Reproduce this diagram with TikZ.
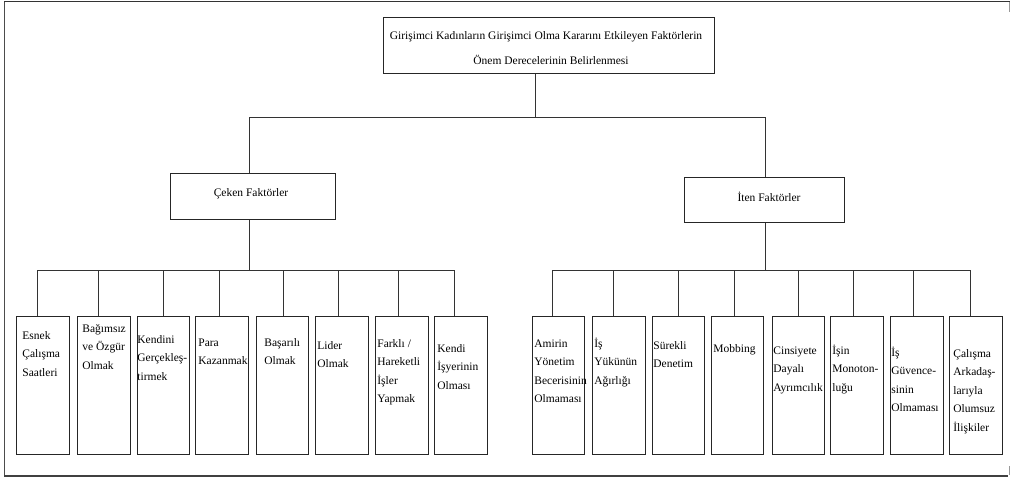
\documentclass[tikz,border=0pt]{standalone}
\usepackage{fontspec}
\setmainfont{Liberation Serif}
\begin{document}
\begin{tikzpicture}[x=1pt,y=-1pt,
  line width=0.8pt,
  box/.style={draw=black!85, line width=0.9pt, anchor=north west, inner sep=0pt},
  lbl/.style={anchor=north west, inner sep=0pt, align=left, font=\fontsize{11.5}{18.5}\selectfont},
  conn/.style={draw=black!80, line width=0.8pt},
  frame/.style={draw=black!70}]
\useasboundingbox (0,0) rectangle (1010,479);
% frame
\draw[frame, line width=0.8pt] (4.5,2) -- (4.5,476);
\draw[frame, line width=1.8pt, draw=black!80] (4,1.5) -- (1010,1.5);
\draw[frame, line width=1.6pt, draw=black!75] (4,476) -- (1008,476);
\draw[frame, line width=0.6pt, draw=black!40] (1009,2) -- (1009,12);
\draw[frame, line width=0.6pt, draw=black!40] (1009,466) -- (1009,475);

% title
\node[box, minimum width=331pt, minimum height=56pt] (T) at (383,17) {};
\node[anchor=north, inner sep=0pt, align=center, font=\fontsize{11.5}{25}\selectfont] (Tt) at (546,29)
  {\rule{0pt}{10pt}Girişimci Kadınların Girişimci Olma Kararını Etkileyen Faktörlerin\\ \hspace*{10pt}Önem Derecelerinin Belirlenmesi};

% level 2
\node[box, minimum width=165pt, minimum height=46pt] (C) at (170,173) {};
\node[font=\fontsize{11.5}{14}\selectfont, inner sep=0pt] at (251,194) {Çeken Faktörler};
\node[box, minimum width=160pt, minimum height=45pt] (I) at (684,177) {};
\node[font=\fontsize{11.5}{14}\selectfont, inner sep=0pt] at (769,197) {İten Faktörler};

\coordinate (bus0) at (535,117);
\coordinate (busL) at (249,117);
\coordinate (busR) at (765,117);
\draw[conn] (T.south -| bus0) -- (bus0);
\draw[conn] (busL) -- (busR);
\draw[conn] (busL) -- (C.north -| busL);
\draw[conn] (busR) -- (I.north -| busR);

% left group
\coordinate (cl0) at (249,270);
\coordinate (cl1) at (37,270);
\coordinate (cl8) at (454,270);
\draw[conn] (C.south -| cl0) -- (cl0);
\draw[conn] (cl1) -- (cl8);

\foreach \n/\l/\r/\c in {1/16/69/37, 2/77/130/98, 3/137/189/163, 4/195/248/219,
                          5/256/308/283, 6/315/368/338, 7/375/428/398, 8/434/487/454}{
  \pgfmathsetmacro{\w}{\r-\l}
  \node[box, minimum width=\w pt, minimum height=138pt] (L\n) at (\l,316) {};
  \coordinate (LC\n) at (\c,270);
  \draw[conn] (LC\n) -- (LC\n |- L\n.north);
}

\node[lbl] at (22,329) {\rule{0pt}{10pt}Esnek\\Çalışma\\Saatleri};
\node[lbl] at (82,322) {\rule{0pt}{10pt}Bağımsız\\ve Özgür\\Olmak};
\node[lbl] at (137,333) {\rule{0pt}{10pt}Kendini\\Gerçekleş-\\tirmek};
\node[lbl] at (198,336) {\rule{0pt}{10pt}Para\\Kazanmak};
\node[lbl] at (264,336) {\rule{0pt}{10pt}Başarılı\\Olmak};
\node[lbl] at (317,339) {\rule{0pt}{10pt}Lider\\Olmak};
\node[lbl] at (377,337) {\rule{0pt}{10pt}Farklı /\\Hareketli\\İşler\\Yapmak};
\node[lbl] at (437,342) {\rule{0pt}{10pt}Kendi\\İşyerinin\\Olması};

% right group
\coordinate (cr0) at (765,270);
\coordinate (cr1) at (552,270);
\coordinate (cr8) at (970,270);
\draw[conn] (I.south -| cr0) -- (cr0);
\draw[conn] (cr1) -- (cr8);

\foreach \n/\l/\r/\c in {1/532/584/552, 2/592/645/613, 3/652/704/678, 4/711/763/734,
                          5/772/824/798, 6/830/883/853, 7/890/943/913, 8/949/1002/970}{
  \pgfmathsetmacro{\w}{\r-\l}
  \node[box, minimum width=\w pt, minimum height=138pt] (R\n) at (\l,316) {};
  \coordinate (RC\n) at (\c,270);
  \draw[conn] (RC\n) -- (RC\n |- R\n.north);
}

\node[lbl] at (534,337) {\rule{0pt}{10pt}Amirin\\Yönetim\\Becerisinin\\Olmaması};
\node[lbl] at (594,337) {\rule{0pt}{10pt}İş\\Yükünün\\Ağırlığı};
\node[lbl] at (653,339) {\rule{0pt}{10pt}Sürekli\\Denetim};
\node[lbl] at (713,342) {\rule{0pt}{10pt}Mobbing};
\node[lbl] at (773,344) {\rule{0pt}{10pt}Cinsiyete\\Dayalı\\Ayrımcılık};
\node[lbl] at (832,344) {\rule{0pt}{10pt}İşin\\Monoton-\\luğu};
\node[lbl] at (891,346) {\rule{0pt}{10pt}İş\\Güvence-\\sinin\\Olmaması};
\node[lbl] at (953,347) {\rule{0pt}{10pt}Çalışma\\Arkadaş-\\larıyla\\Olumsuz\\İlişkiler};
\end{tikzpicture}
\end{document}
